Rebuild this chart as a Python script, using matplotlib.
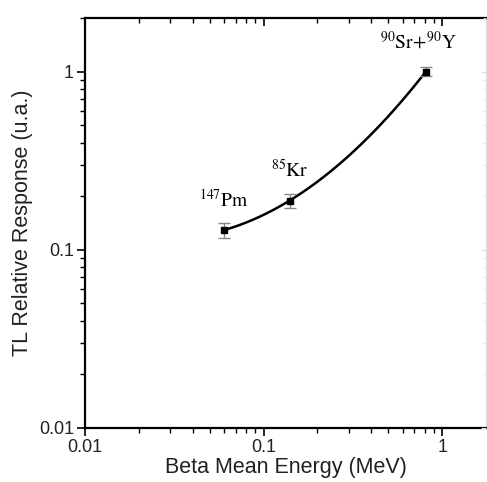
import numpy as np
import matplotlib
matplotlib.use("Agg")
import matplotlib.pyplot as plt

plt.rcParams['font.family'] = ['Liberation Sans', 'DejaVu Sans']
plt.rcParams['mathtext.fontset'] = 'stix'

# Data
sources = [r'$^{147}\mathrm{Pm}$', r'$^{85}\mathrm{Kr}$', r'$^{90}\mathrm{Sr}\!+\!^{90}\mathrm{Y}$']
energy = [0.060, 0.140, 0.81]
response = [0.129, 0.189, 1.0]
response_err = [0.012, 0.017, 0.06]
x_ticks = [0.01, 0.1, 1]
x_ticklabels = ['0.01', '0.1', '1']
y_ticks = [0.01, 0.1, 1]
y_ticklabels = ['0.01', '0.1', '1']

fig = plt.figure(figsize=(4.87, 4.82), dpi=100)
ax = fig.add_axes([85/487, 54/482, 401/487, 410/482])
ax.set_xscale('log')
ax.set_yscale('log')
ax.set_xlim(0.01, 1.76)
ax.set_ylim(0.01, 2)

# smooth fit curve in log-log space
lx = np.log10(energy)
ly = np.log10(response)
coef = np.polyfit(lx, ly, 2)
xs = np.linspace(lx[0], lx[-1], 200)
ax.plot(10**xs, 10**np.polyval(coef, xs), color='black', lw=1.8, zorder=2)

ax.errorbar(energy, response, yerr=response_err, fmt='s', color='black',
            ms=5, ecolor='#888888', elinewidth=1, capsize=4, capthick=1, zorder=3)

offsets = [(0, 14), (0, 14), (-5, 14)]
for s, x, y, off in zip(sources, energy, response, offsets):
    ax.annotate(s, (x, y), xytext=off, textcoords='offset points',
                ha='center', va='bottom', fontsize=14, color='black')

ax.set_xticks(x_ticks)
ax.set_xticklabels(x_ticklabels)
ax.set_yticks(y_ticks)
ax.set_yticklabels(y_ticklabels)
ax.tick_params(which='major', direction='out', length=6, width=1.2, labelsize=13,
               labelcolor='#222222', pad=2)
ax.tick_params(which='minor', direction='out', length=3.5, width=1)
ax.set_xlabel('Beta Mean Energy (MeV)', fontsize=15.5, color='#222222', labelpad=1)
ax.set_ylabel('TL Relative Response (u.a.)', fontsize=15.5, color='#222222', labelpad=4)

for side in ['left', 'bottom', 'top']:
    ax.spines[side].set_linewidth(1.6)
ax.spines['right'].set_linewidth(0.8)
ax.spines['right'].set_color('#dddddd')

# inward ticks on top and right
axt = ax.twiny()
axt.set_xscale('log')
axt.set_xlim(ax.get_xlim())
axt.set_xticks(x_ticks)
axt.tick_params(axis='x', which='major', direction='in', length=6, width=1.2, labeltop=False)
axt.tick_params(axis='x', which='minor', direction='in', length=3.5, width=1)
axt.set_xticklabels([])
for side in ['left', 'bottom', 'top', 'right']:
    axt.spines[side].set_visible(False)

axr = ax.twinx()
axr.set_yscale('log')
axr.set_ylim(ax.get_ylim())
axr.set_yticks(y_ticks)
axr.tick_params(axis='y', which='both', direction='in', color='#dddddd', labelright=False)
axr.set_yticklabels([])
for side in ['left', 'bottom', 'top', 'right']:
    axr.spines[side].set_visible(False)

fig.savefig('out.png', dpi=100)
